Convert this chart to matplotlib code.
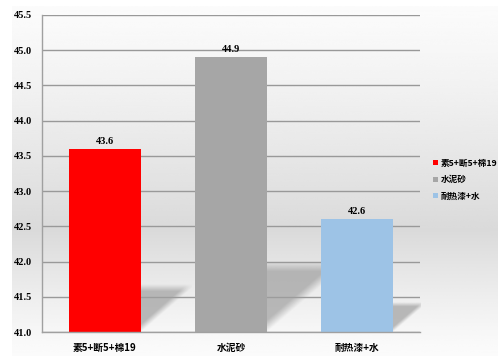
import numpy as np
import matplotlib
matplotlib.use("Agg")
import matplotlib.pyplot as plt
from matplotlib.patches import Patch

categories = ['素5+断5+棉19', '水泥砂', '耐热漆+水']
values = [43.6, 44.9, 42.6]
colors = ['#ff0000', '#a6a6a6', '#9dc3e6']
yticks = [41.0, 41.5, 42.0, 42.5, 43.0, 43.5, 44.0, 44.5, 45.0, 45.5]

cjk = ['Noto Sans CJK SC', 'DejaVu Sans']
num_font = 'Liberation Serif'

fig = plt.figure(figsize=(4.98, 3.56), dpi=100)
fig.patch.set_facecolor('white')

# vertical grey gradient behind everything
bg = fig.add_axes([12 / 498, 0, 1 - 12 / 498, 1 - 6 / 356], zorder=0)
t = np.linspace(0, 1, 400)
mid = 0.64
prof = np.where(t < mid, t / mid, (1 - t) / (1 - mid))
shade = 0.985 - 0.13 * np.clip(prof, 0, 1) ** 1.2
bg.imshow(np.repeat(shade[:, None], 2, axis=1), cmap='gray', vmin=0, vmax=1,
          aspect='auto', extent=[0, 1, 0, 1], interpolation='bicubic')
bg.axis('off')

ax = fig.add_axes([42 / 498, 24 / 356, 378 / 498, 317 / 356], zorder=1)
ax.patch.set_alpha(0)

x = np.arange(len(categories))
width = 0.57
ymin, ymax = 41.0, 45.5

# soft floor shadows behind each bar
for xi, v in zip(x, values):
    h = (v - ymin) * 0.24
    w = h * 70.4 / 126 * 1.16
    x0 = xi + width / 2
    gx = np.linspace(x0, x0 + w, 120)
    gy = np.linspace(ymin, ymin + h * 1.15, 120)
    X, Y = np.meshgrid(gx, gy)
    u = (X - x0) / w
    vv = (Y - ymin) / h
    a = np.clip((vv - u) / 0.18, 0, 1) * np.clip((1.08 - vv) / 0.16, 0, 1)
    img = np.zeros(X.shape + (4,))
    img[..., :3] = 0.62
    img[..., 3] = a * 0.7
    ax.imshow(img, extent=[x0, x0 + w, ymin, ymin + h * 1.15], origin='lower',
              aspect='auto', zorder=1, interpolation='bilinear')

ax.yaxis.grid(True, color='#999999', linewidth=1.0, zorder=0.5)
ax.set_axisbelow(True)
bars = ax.bar(x, [v - ymin for v in values], width, bottom=ymin, color=colors,
              zorder=3)

for xi, v in zip(x, values):
    ax.text(xi, v + 0.04, '%.1f' % v, ha='center', va='bottom',
            fontfamily=num_font, fontweight='bold', fontsize=7.5, zorder=4)

ax.set_xlim(-0.5, 2.5)
ax.set_ylim(ymin, ymax)
ax.set_yticks(yticks)
ax.set_yticklabels(['%.1f' % t for t in yticks], fontfamily=num_font,
                   fontweight='bold', fontsize=7.5)
ax.set_xticks(x)
ax.set_xticklabels(categories, family=cjk, fontweight='bold', fontsize=7)
ax.tick_params(axis='both', length=0)
ax.tick_params(axis='y', pad=7)
ax.tick_params(axis='x', pad=8)
for s in ['top', 'right']:
    ax.spines[s].set_visible(False)
for s in ['left', 'bottom']:
    ax.spines[s].set_color('#a0a0a0')
    ax.spines[s].set_linewidth(1.0)
    ax.spines[s].set_zorder(5)

handles = [Patch(facecolor=c) for c in colors]
leg = fig.legend(handles, categories, loc='upper left',
                 bbox_to_anchor=(430 / 498, 1 - 155 / 356), frameon=False,
                 handlelength=0.55, handleheight=0.55, handletextpad=0.3,
                 labelspacing=0.9, borderaxespad=0,
                 prop={'family': cjk, 'weight': 'bold', 'size': 6.2})

fig.savefig('out.png', dpi=100)
